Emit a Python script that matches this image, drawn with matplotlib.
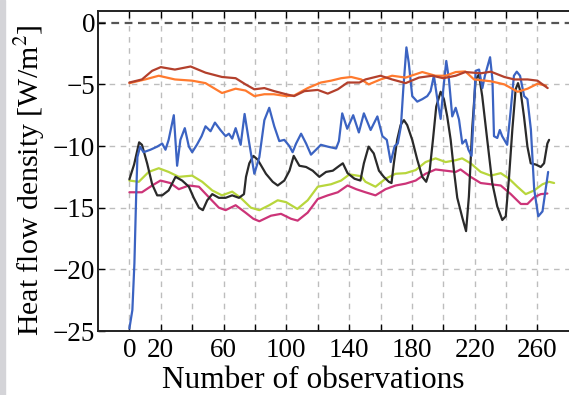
import matplotlib
matplotlib.use( "Agg" )
import matplotlib.pyplot as plt
from matplotlib.patches import Rectangle
from matplotlib.ticker import FixedLocator, FixedFormatter

#----- Data -----
darkred_x = [ 0, 8, 14.5, 20, 29, 39, 48.5, 59, 67.7, 74, 79.6, 86, 92.3, 99.8, 105, 111.5, 120, 126.4, 132.8, 139, 146.6, 150.4, 160, 167.4, 176, 184.5, 193, 200, 207.9, 214, 224, 230.3, 238.9, 245.2, 253.7, 260, 266.5 ]
darkred_y = [ -4.85, -4.6, -3.9, -3.6, -3.8, -3.55, -4.05, -4.4, -4.5, -5.0, -5.4, -5.3, -5.55, -5.8, -5.95, -5.55, -5.45, -5.75, -5.4, -4.85, -4.85, -4.6, -4.3, -4.6, -4.9, -4.45, -4.3, -4.5, -4.3, -4.0, -4.1, -3.97, -4.4, -4.6, -4.6, -4.7, -5.3 ]

orange_x = [ 0, 10, 18.7, 29, 40, 48.5, 59, 67.7, 74, 79.6, 86, 92, 99.8, 105, 113.6, 122, 128.5, 134.9, 141.3, 147.7, 152.5, 160, 167.4, 176, 186.6, 195, 201.5, 207.9, 214, 219.6, 230.3, 238.9, 247.4, 253.7, 260, 265.4 ]
orange_y = [ -4.9, -4.6, -4.3, -4.6, -4.7, -4.9, -5.7, -5.35, -5.5, -5.95, -5.8, -5.8, -5.95, -5.9, -5.3, -4.85, -4.7, -4.5, -4.4, -4.6, -5.0, -4.6, -4.3, -4.45, -4.0, -4.3, -4.3, -4.0, -3.95, -4.6, -4.75, -5.0, -5.6, -5.35, -4.95, -5.1 ]

blue_x = [ 0, 1.9, 3.2, 4.3, 5.1, 6.8, 9, 13.4, 17.7, 20.9, 23, 25, 28.3, 30.4, 32.5, 35.3, 37.9, 40, 43, 46, 48.5, 51.7, 54.5, 58, 61.3, 63.4, 65.5, 67.7, 70.9, 73.4, 76.4, 79.6, 82.8, 86, 89.1, 92.3, 95.5, 98.7, 101.9, 104, 106.2, 109.4, 112.6, 115.7, 118.9, 122, 126.4, 131.7, 133.5, 135.6, 138.8, 142.6, 146.2, 149.4, 153.7, 158, 161.2, 164, 166.5, 169, 171, 173, 174.5, 176.5, 178, 180.2, 183.4, 186.6, 189.8, 191.9, 194, 196.2, 198.3, 200, 201.9, 203.6, 205.7, 207.9, 210, 212.1, 214.3, 216, 218, 219.5, 220.6, 222.8, 224.9, 226.5, 229.8, 231.3, 232.3, 234.4, 236, 237.5, 240.7, 242.8, 245, 246.8, 248.9, 251.5, 253.6, 255.8, 257.9, 260.5, 263.2, 266.8 ]
blue_y = [ -24.8, -23.3, -19.5, -14.1, -10.9, -10.05, -10.5, -10.3, -10.05, -9.8, -10.3, -9.5, -7.5, -11.6, -9.5, -8.55, -10.05, -10.5, -9.9, -9.2, -8.4, -8.8, -8.1, -8.7, -9.2, -9.0, -9.4, -8.55, -9.9, -7.4, -9.8, -12.25, -10.9, -7.9, -6.9, -8.4, -9.6, -9.5, -10.0, -10.5, -9.8, -9.0, -9.8, -10.7, -10.3, -9.9, -10.05, -10.2, -9.6, -7.35, -8.6, -7.5, -8.9, -7.35, -8.7, -7.6, -9.2, -9.5, -11.3, -10.0, -9.8, -8.4, -5.4, -2.0, -3.25, -5.95, -6.4, -6.2, -5.95, -5.55, -4.3, -6.2, -7.8, -5.4, -3.1, -4.6, -7.6, -6.9, -7.85, -9.8, -9.5, -10.3, -10.8, -7.0, -3.9, -3.8, -5.3, -4.3, -2.8, -4.6, -9.2, -9.35, -8.7, -9.2, -9.9, -7.3, -4.3, -3.97, -4.3, -5.95, -6.2, -8.65, -13.5, -15.7, -15.3, -12.1 ]

black_x = [ 0, 3, 6.2, 8, 11.3, 14.5, 17.7, 20.9, 25, 29.4, 33.6, 37.9, 41, 44.3, 46.8, 49.6, 52.8, 57, 61.3, 65.5, 69.8, 73, 74.3, 76.4, 79, 81.7, 87, 91.3, 94.5, 98.7, 102, 104.7, 108.3, 112.6, 116.8, 121, 125.3, 129.6, 133.8, 136, 139, 143.4, 147.2, 149.4, 152.4, 155.7, 159, 162.1, 165.3, 167, 168.5, 170.6, 172.8, 174.9, 177, 180.2, 183.4, 186.6, 189.1, 191.3, 193.4, 195.5, 198.3, 200.4, 202.5, 204.7, 206.8, 208.9, 212.1, 214.5, 216.3, 218.4, 220.6, 222.7, 224.8, 228, 231.2, 234.4, 237.6, 239.8, 241.9, 244, 246.1, 247.6, 249.4, 251.4, 253.6, 255.7, 258.9, 262.1, 264.2, 266.3, 267.4 ]
black_y = [ -12.7, -11.5, -9.7, -9.9, -11.4, -13.1, -14.0, -14.0, -13.6, -12.5, -12.8, -13.3, -14.2, -15.0, -15.2, -14.4, -13.9, -14.2, -14.2, -14.0, -14.2, -13.9, -12.5, -11.4, -10.8, -11.1, -12.25, -12.9, -13.2, -12.8, -12.0, -10.8, -11.6, -11.7, -12.0, -12.5, -12.1, -12.0, -11.6, -11.4, -12.2, -12.65, -12.8, -11.4, -10.05, -10.6, -12.0, -12.5, -12.9, -13.0, -11.4, -9.5, -8.3, -7.9, -8.3, -9.5, -11.1, -12.5, -12.9, -12.0, -9.5, -6.8, -5.6, -6.2, -7.6, -9.5, -12.0, -14.2, -15.8, -16.9, -14.1, -8.65, -4.6, -4.2, -5.95, -9.5, -13.0, -14.9, -16.0, -15.7, -12.5, -8.65, -5.4, -4.9, -5.7, -7.6, -10.05, -11.4, -11.5, -11.7, -11.4, -9.8, -9.5 ]

green_x = [ 0, 6, 12.3, 18.7, 25, 31.5, 40, 46.4, 52.8, 59, 65.5, 70.9, 77.4, 82.8, 89.1, 94.5, 99.8, 107, 113.6, 120, 128.5, 134.9, 140.2, 147.7, 150.4, 156.8, 163.2, 169.6, 176, 182.4, 188.7, 195.1, 201.5, 207.9, 212, 217.4, 223.8, 230.2, 236.6, 241.9, 247.2, 252.5, 257.9, 263.2, 267.4, 270.6 ]
green_y = [ -12.8, -12.9, -12.1, -11.8, -12.1, -12.5, -12.4, -12.9, -13.6, -14.0, -13.7, -14.2, -15.0, -15.2, -14.8, -14.4, -14.55, -15.1, -14.4, -13.3, -13.1, -12.8, -12.3, -12.45, -12.9, -13.3, -12.65, -12.25, -12.2, -11.95, -11.3, -11.0, -11.3, -11.15, -11.0, -11.4, -12.1, -12.4, -12.2, -12.65, -13.3, -13.9, -13.6, -13.1, -12.9, -13.0 ]

magenta_x = [ 0, 8, 14.5, 19.8, 26, 31.5, 37.9, 44.3, 50.6, 57, 61.3, 67.7, 74, 79, 82.8, 90.2, 96.6, 103, 107.2, 113.6, 120, 126.4, 132.8, 139, 144.5, 150.4, 156.8, 163.2, 169.6, 176, 182.4, 188.7, 195.1, 201.5, 207.9, 211, 217.4, 223.8, 230.2, 236.6, 243, 249.4, 253.6, 257.9, 262.1, 266.3 ]
magenta_y = [ -13.75, -13.75, -13.2, -12.8, -13.0, -13.5, -13.2, -13.3, -14.15, -15.0, -15.2, -14.8, -15.4, -15.9, -16.1, -15.65, -15.5, -15.9, -16.05, -15.4, -14.3, -14.0, -13.75, -13.2, -13.5, -13.75, -14.0, -13.5, -13.2, -13.05, -12.8, -12.25, -11.9, -12.0, -12.1, -11.9, -12.5, -13.0, -13.1, -13.2, -13.9, -14.7, -14.7, -14.15, -13.9, -13.85 ]

series = [
	( magenta_x, magenta_y, "#cc3478" ),
	( green_x, green_y, "#b8d63c" ),
	( black_x, black_y, "#2a2a2a" ),
	( blue_x, blue_y, "#3b63c2" ),
	( orange_x, orange_y, "#ff7a2e" ),
	( darkred_x, darkred_y, "#b3402c" ),
]

x_ticks = [ 0, 20, 40, 60, 80, 100, 120, 140, 160, 180, 200, 220, 240, 260 ]
x_tick_labels = [ "0", "20", "", "60", "", "100", "", "140", "", "180", "", "220", "", "260" ]
y_ticks = [ 0, -5, -10, -15, -20, -25 ]


#----- Style -----
plt.rcParams.update({ "font.family": "Liberation Serif", "mathtext.fontset": "stix" })

fig = plt.figure( figsize=(5.69, 3.95), dpi=100 )
fig.patches.append( Rectangle( (0, 0), 5/569, 1, transform=fig.transFigure, color="#d4d4d8", zorder=0 ) )
ax = fig.add_axes( [98/569, 64/395, 474/569, 320/395] )

#----- Grid and zero line -----
for xv in x_ticks:
	ax.axvline( xv, color="#bdbdbd", lw=1.0, ls=(0, (4, 4)), zorder=1 )
for yv in y_ticks[1:-1]:
	ax.axhline( yv, color="#bdbdbd", lw=1.0, ls=(0, (4, 4)), zorder=1 )
ax.axhline( 0, color="#555555", lw=1.6, ls=(0, (3.5, 2.5)), zorder=1 )

#----- Lines -----
for xs, ys, col in series:
	ax.plot( xs, ys, color=col, lw=1.6, zorder=3, solid_joinstyle="round", solid_capstyle="round" )

#----- Axes -----
ax.set_xlim( -20, 282 )
ax.set_ylim( -25, 0.95 )
ax.xaxis.set_major_locator( FixedLocator( x_ticks ) )
ax.xaxis.set_major_formatter( FixedFormatter( x_tick_labels ) )
ax.set_yticks( y_ticks )
ax.tick_params( axis="x", direction="in", top=True, bottom=True, length=5, width=1, labelsize=19.5, pad=5 )
ax.tick_params( axis="y", direction="in", left=True, right=False, length=5, width=1, labelsize=19.5, pad=2 )
for side in [ "left", "bottom", "top" ]:
	ax.spines[side].set_linewidth( 1.4 )
	ax.spines[side].set_color( "#222222" )
ax.spines["right"].set_visible( False )

#--- Labels (centred on the original, wider frame) ---
ax.set_xlabel( "Number of observations", fontsize=22.5 )
ax.set_ylabel( "Heat flow density [W/m$^2$]", fontsize=21.5 )
ax.xaxis.set_label_coords( 0.4536, -0.11 )
ax.yaxis.set_label_coords( -0.108, 0.472 )

plt.savefig( "out.png", dpi=100 )
plt.close()
